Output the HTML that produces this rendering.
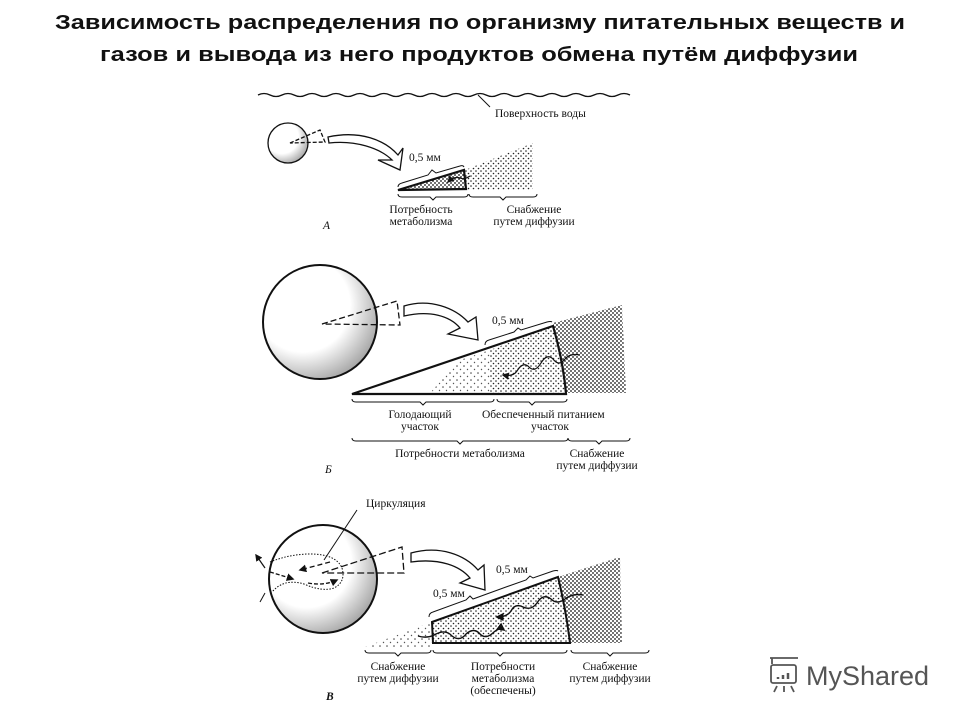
<!DOCTYPE html>
<html><head><meta charset="utf-8"><style>
html,body{margin:0;padding:0;background:#fff;}
svg{display:block;}
.s{font-family:"Liberation Serif",serif;font-size:11.5px;fill:#111;}
</style></head><body>
<svg width="960" height="720" viewBox="0 0 960 720" xmlns="http://www.w3.org/2000/svg">
<defs>
<pattern id="d1" width="4" height="4" patternUnits="userSpaceOnUse"><circle cx="1" cy="1" r="0.9" fill="#111"/><circle cx="3" cy="3" r="0.9" fill="#111"/></pattern>
<pattern id="d2" width="5" height="5" patternUnits="userSpaceOnUse"><circle cx="1" cy="1" r="0.8" fill="#222"/><circle cx="3.5" cy="3.5" r="0.8" fill="#222"/></pattern>
<pattern id="d3" width="7" height="7" patternUnits="userSpaceOnUse"><circle cx="2" cy="2" r="0.8" fill="#444"/><circle cx="5.5" cy="5.5" r="0.7" fill="#555"/></pattern>
<radialGradient id="sph" cx="0.35" cy="0.35" r="0.75"><stop offset="0.55" stop-color="#fff"/><stop offset="1" stop-color="#999"/></radialGradient>
<marker id="ah" viewBox="0 0 10 10" refX="8" refY="5" markerWidth="6" markerHeight="6" orient="auto"><path d="M0,0 L10,5 L0,10 z" fill="#111"/></marker>
</defs>
<g font-family="Liberation Sans, sans-serif" font-weight="bold" font-size="20" fill="#111">
<text x="55" y="29" textLength="850" lengthAdjust="spacingAndGlyphs">Зависимость распределения по организму питательных веществ и</text>
<text x="100" y="61" textLength="758" lengthAdjust="spacingAndGlyphs">газов и вывода из него продуктов обмена путём диффузии</text>
</g>
<g stroke="#111" fill="none" stroke-width="1.3">
<path d="M258,95 q6,-3 12,0 t12,0 t12,0 t12,0 t12,0 t12,0 t12,0 t12,0 t12,0 t12,0 t12,0 t12,0 t12,0 t12,0 t12,0 t12,0 t12,0 t12,0 t12,0 t12,0 t12,0 t12,0 t12,0 t12,0 t12,0 t12,0 t12,0 t12,0 t12,0 t12,0 t12,0"/>
<path d="M478,95 L490,107" stroke-width="1"/>
<circle cx="288" cy="143" r="20" fill="url(#sph)"/>
<path d="M290,143 L320,130 L325,142 Z" stroke-dasharray="4,2"/>
<path d="M328,137 C360,130 385,140 398,155 L403,148 L400,170 L378,160 L392,160 C380,148 355,140 329,143 Z" fill="#fff"/>
<path d="M465,170 L533,143 L533,190 L466,190 Z" fill="url(#d2)" stroke="none"/>
<path d="M398,190 L464,170 L466,189 Z" fill="url(#d1)" stroke-width="2.2"/>
<path d="M470,176 q-6,4 -10,2 q-6,-2 -12,4" stroke-width="1.2" marker-end="url(#ah)"/>
<path d="M398,187 q0,-3 4,-4 L428,175 L432,170 L436,173 L460,166 q3,-1 4,1" stroke-width="1"/>
<path d="M398,194 q0,3 4,3 h28 l3,3 l3,-3 h28 q4,0 4,-3 M469,194 q0,3 4,3 h27 l3,3 l3,-3 h27 q4,0 4,-3" stroke-width="1"/>
<circle cx="320" cy="322" r="57" fill="url(#sph)" stroke-width="2"/>
<path d="M322,324 L397,301 L400,325 Z" stroke-dasharray="6,3"/>
<path d="M404,306 C430,298 455,308 468,322 L476,317 L478,340 L448,334 L460,328 C450,316 430,310 404,316 Z" fill="#fff"/>
<path d="M553,323 L622,305 L626,393 L566,393 Z" fill="url(#d1)" stroke="none"/>
<path d="M490,350 L553,326 L566,393 L490,393 Z" fill="url(#d2)" stroke="none"/>
<path d="M460,360 L490,350 L490,393 L430,393 Z" fill="url(#d3)" stroke="none"/>
<path d="M352,394 L553,326 Q563,360 566,394 Z" stroke-width="2.2"/>
<path d="M580,355 q-10,-2 -15,4 q-6,8 -12,0 q-6,-6 -12,4 q-6,10 -12,4 q-6,-6 -12,4 q-4,6 -14,4" stroke-width="1.2" marker-end="url(#ah)"/>
<path d="M485,345 q0,-4 4,-5 l25,-8 l4,-4 l3,2 l26,-8 q4,-1 5,0" stroke-width="1"/>
<path d="M352,399 q0,3 4,3 h64 l3,3 l3,-3 h64 q4,0 4,-3 M497,399 q0,3 4,3 h28 l3,3 l3,-3 h28 q4,0 4,-3" stroke-width="1"/>
<path d="M352,438 q0,3 4,3 h101 l3,3 l3,-3 h101 q4,0 4,-3 M568,438 q0,3 4,3 h24 l3,3 l3,-3 h24 q4,0 4,-3" stroke-width="1"/>
<circle cx="323" cy="579" r="54" fill="url(#sph)" stroke-width="2"/>
<path d="M322,573 L402,547 L404,573 Z" stroke-dasharray="7,3"/>
<path d="M270,562 q20,-8 40,-8 q26,0 32,14 q4,14 -8,20 q-12,4 -30,-4 q-20,-6 -32,8" stroke-dasharray="1.5,1.5" stroke-width="1"/>
<path d="M330,562 L300,570" stroke-dasharray="5,3" marker-end="url(#ah)"/>
<path d="M270,572 L293,579" stroke-dasharray="4,2" marker-end="url(#ah)"/>
<path d="M265,568 L256,555" stroke-width="1.2" marker-end="url(#ah)"/>
<path d="M308,583 q16,3 29,-3" stroke-dasharray="4,2" marker-end="url(#ah)"/>
<path d="M357,510 L324,560" stroke-width="1"/>
<path d="M265,593 L260,602" stroke-width="1"/>
<path d="M411,553 C440,545 465,555 478,570 L484,565 L485,590 L460,583 L470,578 C460,566 440,558 411,562 Z" fill="#fff"/>
<path d="M365,647 L432,622 L433,647 Z" fill="url(#d3)" stroke="none"/>
<path d="M558,577 L620,557 L622,643 L570,643 Z" fill="url(#d1)" stroke="none"/>
<path d="M432,622 L558,577 Q566,610 570,643 L433,643 Z" fill="url(#d2)" stroke-width="2"/>
<path d="M418,636 q10,3 18,-2 q10,-5 16,2 q8,6 14,-2 q8,-7 14,0 q6,6 14,-2 q6,-5 10,-2" stroke-width="1.4" marker-end="url(#ah)"/>
<path d="M583,595 q-10,-2 -18,4 q-8,6 -14,0 q-8,-6 -14,4 q-6,8 -14,4 q-8,-4 -12,4 q-4,6 -14,6" stroke-width="1.4" marker-end="url(#ah)"/>
<path d="M429,617 q0,-4 4,-5 l33,-12 l4,-4 l3,3 l33,-12 M506,587 l20,-7 l4,-4 l3,2 l20,-7 q4,-1 5,0" stroke-width="1"/>
<path d="M365,650 q0,3 4,3 h26 l3,3 l3,-3 h26 q4,0 4,-3 M433,650 q0,3 4,3 h60 l3,3 l3,-3 h60 q4,0 4,-3 M571,650 q0,3 4,3 h32 l3,3 l3,-3 h32 q4,0 4,-3" stroke-width="1"/>
</g>
<g class="s">
<text x="495" y="117">Поверхность воды</text>
<text x="409" y="161">0,5 мм</text>
<text x="421" y="213" text-anchor="middle">Потребность</text>
<text x="421" y="225" text-anchor="middle">метаболизма</text>
<text x="534" y="213" text-anchor="middle">Снабжение</text>
<text x="534" y="225" text-anchor="middle">путем диффузии</text>
<text x="323" y="229" font-style="italic">А</text>
<text x="492" y="324">0,5 мм</text>
<text x="420" y="418" text-anchor="middle">Голодающий</text>
<text x="420" y="430" text-anchor="middle">участок</text>
<text x="482" y="418">Обеспеченный питанием</text>
<text x="550" y="430" text-anchor="middle">участок</text>
<text x="460" y="457" text-anchor="middle">Потребности метаболизма</text>
<text x="597" y="457" text-anchor="middle">Снабжение</text>
<text x="597" y="469" text-anchor="middle">путем диффузии</text>
<text x="325" y="473" font-style="italic">Б</text>
<text x="366" y="507">Циркуляция</text>
<text x="496" y="573">0,5 мм</text>
<text x="433" y="597">0,5 мм</text>
<text x="398" y="670" text-anchor="middle">Снабжение</text>
<text x="398" y="682" text-anchor="middle">путем диффузии</text>
<text x="503" y="670" text-anchor="middle">Потребности</text>
<text x="503" y="682" text-anchor="middle">метаболизма</text>
<text x="503" y="694" text-anchor="middle">(обеспечены)</text>
<text x="610" y="670" text-anchor="middle">Снабжение</text>
<text x="610" y="682" text-anchor="middle">путем диффузии</text>
<text x="326" y="700" font-style="italic" font-weight="bold">В</text>
</g>
<g stroke="#555" fill="none" stroke-width="1.8">
<rect x="771" y="665" width="25" height="18" rx="2"/>
<path d="M770,658 h28 M772,658 v6 M777,686 l-3,6 M784,686 v6 M791,686 l3,6"/>
<path d="M778,679 v-2 M783,679 v-4 M788,679 v-6" stroke-width="2.5"/>
</g>
<text x="806" y="685" font-family="Liberation Sans, sans-serif" font-size="27" fill="#555">MyShared</text>
</svg>
</body></html>
